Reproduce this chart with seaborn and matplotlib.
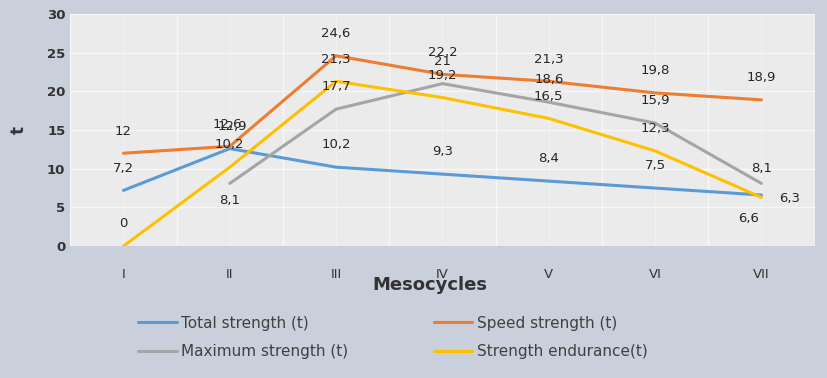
import numpy as np
import pandas as pd
import matplotlib
matplotlib.use('Agg')
import matplotlib.pyplot as plt
import seaborn as sns

# Data
mesocycles = ['I', 'II', 'III', 'IV', 'V', 'VI', 'VII']
total_strength = [7.2, 12.6, 10.2, 9.3, 8.4, 7.5, 6.6]
speed_strength = [12.0, 12.9, 24.6, 22.2, 21.3, 19.8, 18.9]
maximum_strength = [np.nan, 8.1, 17.7, 21.0, 18.6, 15.9, 8.1]
strength_endurance = [0.0, 10.2, 21.3, 19.2, 16.5, 12.3, 6.3]

series_names = ['Total strength (t)', 'Speed strength (t)',
                'Maximum strength (t)', 'Strength endurance(t)']
series_values = [total_strength, speed_strength, maximum_strength, strength_endurance]
colors = ['#5b9bd5', '#ed7d31', '#a5a5a5', '#ffc000']

# long-form table for seaborn
rows = []
for name, vals in zip(series_names, series_values):
    for i, v in enumerate(vals):
        rows.append({'pos': i, 'mesocycle': mesocycles[i], 'series': name, 'value': v})
df = pd.DataFrame(rows).dropna()

sns.set_theme(style='white')
plt.rcParams['font.family'] = ['DejaVu Sans']

fig = plt.figure(figsize=(8.27, 3.78), dpi=100)
fig.patch.set_facecolor('#c9d0dc')
ax = fig.add_axes([0.085, 0.349, 0.900, 0.614])
ax.set_facecolor('#ebebeb')

sns.lineplot(data=df, x='pos', y='value', hue='series', hue_order=series_names,
             palette=colors, linewidth=2.2, ax=ax, sort=True)

# data labels (most sit above the point, a few are shifted like in the original)
special = {('Maximum strength (t)', 1): (0, -12),
           ('Maximum strength (t)', 6): (0, 11),
           ('Total strength (t)', 6): (-9, -17),
           ('Strength endurance(t)', 6): (20, -1),
           ('Total strength (t)', 1): (-2, 17),
           ('Speed strength (t)', 1): (2, 14)}
for name, vals in zip(series_names, series_values):
    for i, v in enumerate(vals):
        if np.isnan(v):
            continue
        dx, dy = special.get((name, i), (0, 16))
        txt = f'{v:g}'.replace('.', ',')
        ax.annotate(txt, (i, v), xytext=(dx, dy), textcoords='offset points',
                    ha='center', va='center', fontsize=9.5, color='#262626')

ax.set_xlim(-0.5, 6.5)
ax.set_ylim(0, 30)
ax.set_yticks(range(0, 31, 5))
ax.set_xticks(range(len(mesocycles)))
ax.set_xticklabels(mesocycles)
ax.set_xticks(np.arange(-0.5, 7, 1), minor=True)
ax.grid(True, which='major', axis='y', color='#f7f7f7', lw=1.0)
ax.grid(True, which='minor', axis='x', color='#f7f7f7', lw=1.0)
ax.grid(True, which='major', axis='x', color='#f3f3f3', lw=0.6)
ax.tick_params(axis='both', which='both', length=0, labelsize=9.5, colors='#333333')
ax.tick_params(axis='x', pad=16)
for lab in ax.get_yticklabels():
    lab.set_fontweight('bold')
for s in ax.spines.values():
    s.set_visible(False)

ax.set_xlabel('')
ax.set_ylabel('t', fontsize=12, fontweight='bold', color='#333333', labelpad=14)
fig.text(0.52, 0.245, 'Mesocycles', ha='center', va='center', fontsize=13,
         fontweight='bold', color='#333333')

handles, labels = ax.get_legend_handles_labels()
ax.get_legend().remove()
order = [0, 2, 1, 3]
fig.legend([handles[k] for k in order], [labels[k] for k in order], ncol=2,
           loc='center', bbox_to_anchor=(0.475, 0.107), frameon=False,
           fontsize=11, labelcolor='#404040', handlelength=2.5,
           handletextpad=0.3, columnspacing=5.6, labelspacing=0.9)

fig.savefig('out.png', dpi=100, facecolor=fig.get_facecolor())
